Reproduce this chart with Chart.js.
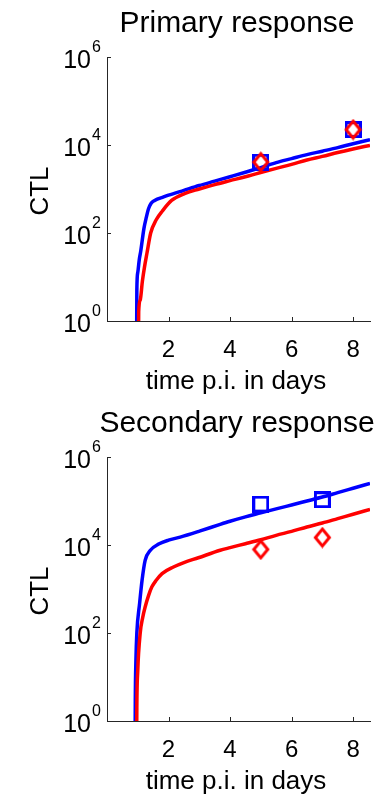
<!DOCTYPE html>
<html>
<head>
<meta charset="utf-8">
<script src="https://cdn.jsdelivr.net/npm/chart.js@4.4.0/dist/chart.umd.min.js"></script>
<style>
  body { margin: 0; background: #fff; }
  canvas { display: block; }
</style>
</head>
<body>
<canvas id="primary" width="383" height="400"></canvas>
<canvas id="secondary" width="383" height="398"></canvas>
<script>
// model curves: time p.i. (days) and CTL numbers
var primaryBlueT   = [0.96, 0.97, 1.0, 1.05, 1.1, 1.2, 1.28, 1.35, 1.43, 1.55, 1.84, 2.0, 2.5, 3.0, 3.5, 4.0, 4.5, 4.87, 5.5, 6.0, 6.5, 7.0, 7.5, 8.0, 8.55];
var primaryBlueCTL = [0.1, 5, 12.6, 25, 40, 126, 229, 355, 468, 550, 660, 724, 933, 1200, 1510, 1900, 2400, 2880, 3980, 4900, 6030, 7240, 8710, 10700, 13200];
var primaryRedT    = [1.02, 1.03, 1.08, 1.15, 1.22, 1.3, 1.42, 1.6, 1.8, 2.1, 2.54, 3.0, 3.5, 4.0, 4.5, 4.87, 5.5, 6.0, 6.5, 7.0, 7.5, 8.0, 8.55];
var primaryRedCTL  = [0.1, 1.6, 3, 8, 17, 35, 100, 200, 316, 550, 794, 1000, 1260, 1550, 1900, 2240, 2950, 3630, 4570, 5500, 6760, 8130, 9800];

var secondaryBlueT   = [0.91, 0.92, 0.94, 0.97, 1.06, 1.14, 1.24, 1.41, 1.68, 2.0, 2.38, 3.03, 3.68, 4.0, 4.5, 5.0, 5.5, 6.0, 6.5, 7.0, 7.5, 8.0, 8.55];
var secondaryBlueCTL = [0.1, 3, 24, 100, 470, 1580, 4470, 7590, 10500, 12900, 15100, 20900, 29500, 34700, 43700, 53700, 66100, 81300, 100000, 123000, 155000, 195000, 251000];
var secondaryRedT    = [0.96, 0.97, 1.0, 1.08, 1.16, 1.24, 1.35, 1.46, 1.6, 1.79, 2.16, 2.5, 2.97, 3.68, 4.0, 4.5, 5.0, 5.5, 6.0, 6.5, 7.0, 7.5, 8.0, 8.55];
var secondaryRedCTL  = [0.1, 2, 14, 100, 224, 389, 708, 1120, 1580, 2240, 3160, 3980, 5130, 7590, 8710, 10700, 13200, 16600, 20400, 25700, 31600, 39800, 50100, 64600];

// measured data
var primaryDataT      = [5, 8];
var primarySquares    = [4070, 22400];
var primaryDiamonds   = [4070, 22400];
var secondaryDataT    = [5, 7];
var secondarySquares  = [85000, 107000];
var secondaryDiamonds = [7940, 14800];

var yTicks = [1, 100, 10000, 1000000];
var yTickExp = ['0', '2', '4', '6'];
var xTicks = [2, 4, 6, 8];

var FONT = '"Liberation Sans", Arial, Helvetica, sans-serif';

function pts(t, v) {
  return t.map(function (x, i) { return { x: x, y: v[i] }; });
}

function marker(kind, color) {
  var c = document.createElement('canvas');
  var g;
  if (kind === 'square') {
    c.width = 17; c.height = 17;
    g = c.getContext('2d');
    g.strokeStyle = color; g.lineWidth = 3;
    g.strokeRect(1.5, 1.5, 14, 14);
  } else {
    c.width = 19; c.height = 22;
    g = c.getContext('2d');
    g.strokeStyle = color; g.lineWidth = 3;
    g.beginPath();
    g.moveTo(9.5, 2.5); g.lineTo(16.5, 11); g.lineTo(9.5, 19.5); g.lineTo(2.5, 11);
    g.closePath();
    g.stroke();
  }
  return c;
}

// matlab-like extras: inward ticks, 10^n labels, titles
var matlabAxes = {
  id: 'matlabAxes',
  afterDraw: function (chart, args, opts) {
    var ctx = chart.ctx, xs = chart.scales.x, ys = chart.scales.y, area = chart.chartArea;
    ctx.save();
    ctx.strokeStyle = '#262626';
    ctx.lineWidth = 1;
    ctx.beginPath();
    yTicks.forEach(function (v) {
      var py = Math.round(ys.getPixelForValue(v)) + 0.5;
      ctx.moveTo(area.left, py); ctx.lineTo(area.left + 4, py);
    });
    xTicks.forEach(function (v) {
      var px = Math.round(xs.getPixelForValue(v)) + 0.5;
      ctx.moveTo(px, area.bottom); ctx.lineTo(px, area.bottom - 4);
    });
    ctx.stroke();

    ctx.fillStyle = '#000';
    ctx.textBaseline = 'alphabetic';
    yTicks.forEach(function (v, i) {
      var py = ys.getPixelForValue(v);
      ctx.font = '25px ' + FONT;
      ctx.textAlign = 'right';
      ctx.fillText('10', 91, py + 11);
      ctx.font = '16px ' + FONT;
      ctx.textAlign = 'left';
      ctx.fillText(yTickExp[i], 92, py - 5);
    });

    ctx.textAlign = 'center';
    ctx.font = '30px ' + FONT;
    ctx.fillText(opts.title, 237, 32);
    ctx.font = '26px ' + FONT;
    ctx.fillText('time p.i. in days', 236, 389);
    ctx.translate(48, 191);
    ctx.rotate(-Math.PI / 2);
    ctx.font = '26px ' + FONT;
    ctx.fillText('CTL', 0, 0);
    ctx.restore();
  }
};

function panel(id, title, bT, bV, rT, rV, dT, sq, di) {
  var canvas = document.getElementById(id);
  return new Chart(canvas, {
    type: 'line',
    data: {
      datasets: [{
        data: pts(bT, bV),
        borderColor: '#0000ff',
        borderWidth: 3.5,
        pointRadius: 0,
        cubicInterpolationMode: 'monotone',
        clip: 0,
        order: 3
      }, {
        data: pts(rT, rV),
        borderColor: '#ff0000',
        borderWidth: 3.5,
        pointRadius: 0,
        cubicInterpolationMode: 'monotone',
        clip: 0,
        order: 2
      }, {
        data: pts(dT, sq),
        showLine: false,
        pointStyle: marker('square', '#0000ff'),
        pointRadius: 8,
        order: 1
      }, {
        data: pts(dT, di),
        showLine: false,
        pointStyle: marker('diamond', '#ff0000'),
        pointRadius: 8,
        order: 0
      }]
    },
    options: {
      responsive: false,
      animation: false,
      events: [],
      layout: { padding: { top: 57, right: 13, left: 0, bottom: 0 } },
      plugins: {
        legend: { display: false },
        tooltip: { enabled: false },
        matlabAxes: { title: title }
      },
      scales: {
        x: {
          type: 'linear',
          min: 0,
          max: 8.55,
          grid: { display: false, drawTicks: false },
          border: { display: true, color: '#262626', width: 1 },
          ticks: {
            color: '#000',
            padding: 15,
            maxRotation: 0,
            font: { family: FONT, size: 24 }
          },
          afterBuildTicks: function (s) {
            s.ticks = xTicks.map(function (v) { return { value: v }; });
          },
          afterFit: function (s) { s.height = canvas.height - 321; }
        },
        y: {
          type: 'logarithmic',
          min: 1,
          max: 1000000,
          grid: { display: false, drawTicks: false },
          border: { display: true, color: '#262626', width: 1 },
          ticks: { display: false },
          afterFit: function (s) { s.width = 107; }
        }
      }
    },
    plugins: [matlabAxes]
  });
}

panel('primary', 'Primary response', primaryBlueT, primaryBlueCTL, primaryRedT, primaryRedCTL,
      primaryDataT, primarySquares, primaryDiamonds);
panel('secondary', 'Secondary response', secondaryBlueT, secondaryBlueCTL, secondaryRedT, secondaryRedCTL,
      secondaryDataT, secondarySquares, secondaryDiamonds);
</script>
</body>
</html>
